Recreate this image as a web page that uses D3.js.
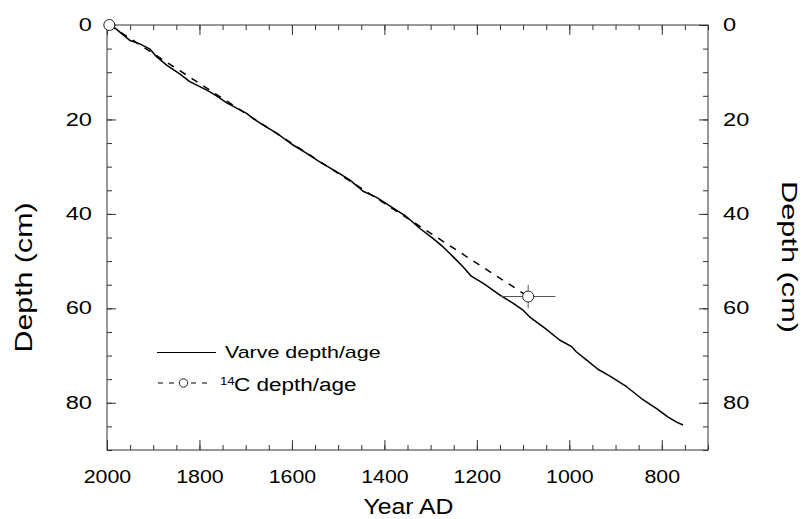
<!DOCTYPE html>
<html><head><meta charset="utf-8">
<script src="https://cdn.jsdelivr.net/npm/d3@7"></script>
<style>
html,body{margin:0;padding:0;background:#fff;}
svg{display:block;font-family:"Liberation Sans",Arial,Helvetica,sans-serif;}
</style></head><body>
<svg id="chart" width="803" height="519"></svg>
<script>
// ---- data ----
const varveYears  = [1995, 1983, 1965, 1950, 1929, 1907, 1893, 1871, 1842, 1821, 1784, 1763, 1741, 1698, 1684, 1662, 1633, 1601, 1568, 1540, 1503, 1475, 1446, 1417, 1381, 1352, 1323, 1295, 1273, 1251, 1230, 1212, 1186, 1150, 1122, 1100, 1086, 1053, 1021, 995, 985, 963, 938, 913, 876, 844, 812, 787, 768, 754];
const varveDepths = [0, 0.6, 2.1, 3.3, 4.0, 5.1, 6.7, 8.5, 10.4, 12.0, 13.8, 15.0, 16.5, 18.7, 19.8, 21.2, 22.9, 25.2, 27.2, 29.0, 31.1, 32.8, 35.2, 36.5, 38.8, 40.6, 43.1, 45.2, 47.0, 49.1, 51.2, 53.2, 54.7, 57.2, 58.9, 60.4, 61.8, 64.2, 66.7, 68.1, 69.2, 70.9, 72.9, 74.3, 76.6, 79.1, 81.2, 83.0, 84.1, 84.7];
const c14Years     = [1995, 1089];
const c14Depths    = [0, 57.5];
const c14YearErr   = [0, 59];
const c14DepthErr  = [0, 2.5];
const xMajorTicks  = [2000, 1800, 1600, 1400, 1200, 1000, 800];
const xMinorTicks  = d3.range(2000, 699, -50);
const yMajorTicks  = [0, 20, 40, 60, 80];
const yMinorTicks  = d3.range(0, 91, 5);
const xTitle = "Year AD";
const yTitle = "Depth (cm)";
const legendLabels = ["Varve depth/age", "C depth/age"];
const legendSup = "14";

// ---- layout ----
const svg = d3.select("#chart");
const L = 107, R = 708, T = 25, B = 450;
const x = d3.scaleLinear().domain([2000, 700]).range([L, R]);
const y = d3.scaleLinear().domain([0, 90]).range([T, B]);
const frameColor = "#333";

function stretch(sel, f) {
  sel.each(function () {
    const len = this.getComputedTextLength();
    this.setAttribute("textLength", len * f);
    this.setAttribute("lengthAdjust", "spacingAndGlyphs");
  });
}
function styleAxis(g) {
  g.select(".domain").remove();
  g.selectAll(".tick line").attr("stroke", frameColor).attr("stroke-width", 1);
  g.selectAll("text").attr("fill", "#000").attr("font-size", 17.5)
    .attr("font-family", '"Liberation Sans",Arial,sans-serif');
}

// minor ticks (all four sides)
svg.append("g").attr("transform", `translate(0,${B})`)
  .call(d3.axisBottom(x).tickValues(xMinorTicks).tickSize(-5).tickFormat(""))
  .call(styleAxis);
svg.append("g").attr("transform", `translate(0,${T})`)
  .call(d3.axisTop(x).tickValues(xMinorTicks).tickSize(-5).tickFormat(""))
  .call(styleAxis);
svg.append("g").attr("transform", `translate(${L},0)`)
  .call(d3.axisLeft(y).tickValues(yMinorTicks).tickSize(-5).tickFormat(""))
  .call(styleAxis);
svg.append("g").attr("transform", `translate(${R},0)`)
  .call(d3.axisRight(y).tickValues(yMinorTicks).tickSize(-5).tickFormat(""))
  .call(styleAxis);

// major ticks with labels
const gxB = svg.append("g").attr("transform", `translate(0,${B})`)
  .call(d3.axisBottom(x).tickValues(xMajorTicks).tickSize(-10).tickPadding(21).tickFormat(d3.format("d")))
  .call(styleAxis);
stretch(gxB.selectAll("text"), 1.22);
svg.append("g").attr("transform", `translate(0,${T})`)
  .call(d3.axisTop(x).tickValues(xMajorTicks).tickSize(-10).tickFormat(""))
  .call(styleAxis);
const gyL = svg.append("g").attr("transform", `translate(${L},0)`)
  .call(d3.axisLeft(y).tickValues(yMajorTicks).tickSize(-9).tickPadding(15).tickFormat(d3.format("d")))
  .call(styleAxis);
stretch(gyL.selectAll("text"), 1.35);
const gyR = svg.append("g").attr("transform", `translate(${R},0)`)
  .call(d3.axisRight(y).tickValues(yMajorTicks).tickSize(-9).tickPadding(15).tickFormat(d3.format("d")))
  .call(styleAxis);
stretch(gyR.selectAll("text"), 1.35);

// frame
svg.append("rect").attr("x", L).attr("y", T).attr("width", R - L).attr("height", B - T)
  .attr("fill", "none").attr("stroke", frameColor).attr("stroke-width", 1);

// 14C dashed line
const c14 = c14Years.map((yr, i) => ({yr, d: c14Depths[i], ey: c14YearErr[i], ed: c14DepthErr[i]}));
svg.append("path").datum(c14)
  .attr("d", d3.line().x(p => x(p.yr)).y(p => y(p.d)))
  .attr("fill", "none").attr("stroke", "#000").attr("stroke-width", 1.5)
  .attr("stroke-dasharray", "7,7");

// varve line
const varve = varveYears.map((yr, i) => ({yr, d: varveDepths[i]}));
svg.append("path").datum(varve)
  .attr("d", d3.line().x(p => x(p.yr)).y(p => y(p.d)))
  .attr("fill", "none").attr("stroke", "#000").attr("stroke-width", 1.5)
  .attr("stroke-linejoin", "round");

// error bars
const eb = svg.append("g").attr("stroke", "#555").attr("stroke-width", 1);
c14.filter(p => p.ey > 0).forEach(p => {
  eb.append("line").attr("x1", x(p.yr - p.ey)).attr("x2", x(p.yr + p.ey)).attr("y1", y(p.d)).attr("y2", y(p.d));
  eb.append("line").attr("x1", x(p.yr)).attr("x2", x(p.yr)).attr("y1", y(p.d - p.ed)).attr("y2", y(p.d + p.ed));
});
svg.append("g").selectAll("circle").data(c14).join("circle")
  .attr("cx", p => x(p.yr)).attr("cy", p => y(p.d)).attr("r", 5.5)
  .attr("fill", "#fff").attr("stroke", "#222").attr("stroke-width", 1);

// axis titles
svg.append("text").attr("x", (L + R) / 2 + 1).attr("y", 514).attr("text-anchor", "middle")
  .attr("font-size", 21.5).attr("textLength", 90).attr("lengthAdjust", "spacingAndGlyphs").text(xTitle);
svg.append("text").attr("transform", "translate(31.5,277.5) rotate(-90)").attr("text-anchor", "middle")
  .attr("font-size", 24).attr("textLength", 150).attr("lengthAdjust", "spacingAndGlyphs").text(yTitle);
svg.append("text").attr("transform", "translate(781.5,257) rotate(90)").attr("text-anchor", "middle")
  .attr("font-size", 22.5).attr("textLength", 152).attr("lengthAdjust", "spacingAndGlyphs").text(yTitle);

// legend
const lg = svg.append("g");
lg.append("line").attr("x1", 157).attr("x2", 216).attr("y1", 352.5).attr("y2", 352.5)
  .attr("stroke", "#000").attr("stroke-width", 1.2);
const t1 = lg.append("text").attr("x", 225).attr("y", 358).attr("font-size", 17).text(legendLabels[0]);
stretch(t1, 1.26);
lg.append("line").attr("x1", 158).attr("x2", 176).attr("y1", 383).attr("y2", 383)
  .attr("stroke", "#000").attr("stroke-width", 1.2).attr("stroke-dasharray", "5,6");
lg.append("line").attr("x1", 191).attr("x2", 209).attr("y1", 383).attr("y2", 383)
  .attr("stroke", "#000").attr("stroke-width", 1.2).attr("stroke-dasharray", "5,6");
lg.append("circle").attr("cx", 183.5).attr("cy", 383).attr("r", 4.2)
  .attr("fill", "#fff").attr("stroke", "#222").attr("stroke-width", 1);
const ts = lg.append("text").attr("x", 220).attr("y", 385).attr("font-size", 11.5).text(legendSup);
stretch(ts, 1.15);
const t2 = lg.append("text").attr("x", 234).attr("y", 391).attr("font-size", 18).text(legendLabels[1]);
stretch(t2, 1.25);
</script>
</body></html>
